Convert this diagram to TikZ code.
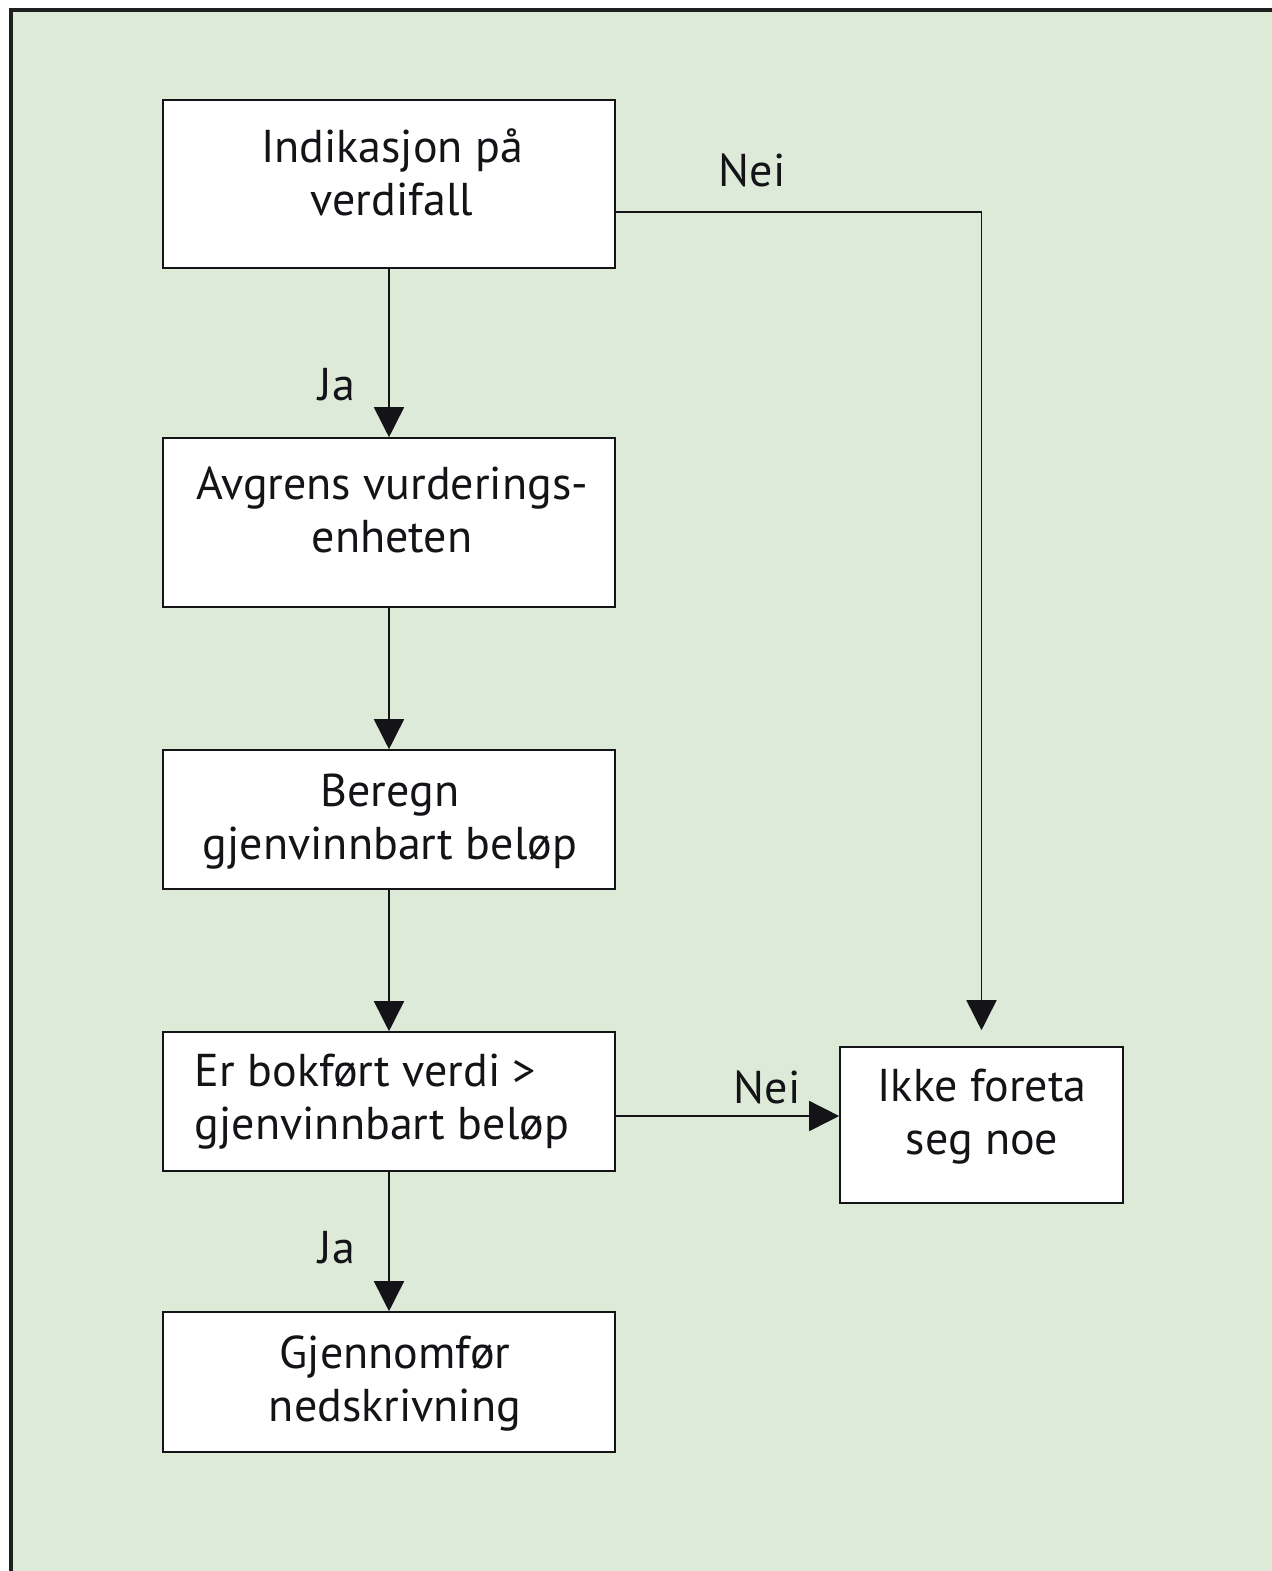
\documentclass[tikz,border=0pt]{standalone}
\usepackage{fontspec}
\setmainfont{PT Sans}
\usetikzlibrary{arrows.meta}
\definecolor{bggreen}{RGB}{221,234,216}
\definecolor{frame}{RGB}{30,32,30}
\definecolor{ink}{RGB}{20,20,24}
\begin{document}
\begin{tikzpicture}[x=0.5pt,y=-0.5pt,
  box/.style={draw=ink,line width=0.8pt,fill=white,inner sep=0pt,minimum width=226pt},
  txt/.style={font=\fontsize{23}{26.5}\selectfont,text=ink,align=center,inner sep=0pt},
  lbl/.style={font=\fontsize{23}{26.5}\selectfont,text=ink,inner sep=0pt},
  arr/.style={draw=ink,line width=0.8pt,-{Triangle[length=15pt,width=15pt]}}]
\useasboundingbox (0,0) rectangle (1272,1571);
\fill[white] (0,0) rectangle (1272,1571);
\fill[bggreen] (11,10) rectangle (1272,1571);
\draw[frame,line width=2pt] (1272,10) -- (11,10) -- (11,1571);
% boxes
\node[box,minimum height=84pt] (b1) at (389,184) {};
\node[box,minimum height=84.5pt] (b2) at (389,522.5) {};
\node[box,minimum height=69.5pt] (b3) at (389,819.5) {};
\node[box,minimum height=69.5pt] (b4) at (389,1101.5) {};
\node[box,minimum height=70pt] (b5) at (389,1382) {};
\node[box,minimum width=141.5pt,minimum height=78pt] (b6) at (981.5,1125) {};
% texts
\node[txt] (t1) at (392,172) {Indikasjon på\\verdifall};
\node[txt] (t2) at (392,510) {Avgrens vurderings-\\enheten};
\node[txt] (t3) at (390,821.5) {Beregn\\gjenvinnbart beløp};
\node[txt,align=left] (t4) at (382,1102) {Er bokført verdi >\\gjenvinnbart beløp};
\node[txt] (t5) at (395,1383) {Gjennomfør\\nedskrivning};
\node[txt] (t6) at (982,1117) {Ikke foreta\\seg noe};
% connectors
\draw[arr] (b1.south) -- (b2.north);
\draw[arr] (b2.south) -- (b3.north);
\draw[arr] (b3.south) -- (b4.north);
\draw[arr] (b4.south) -- (b5.north);
\coordinate (n1s) at ([yshift=-14pt]b1.east);
\coordinate (n1e) at ([yshift=8pt]b6.north);
\draw[arr] (n1s) -| (n1e);
\coordinate (n2s) at ([yshift=-7.25pt]b4.east);
\draw[arr] (n2s) -- (n2s -| b6.west);
% labels
\node[lbl] (l1) at (752,170) {Nei};
\node[lbl] (l2) at (337,385) {Ja};
\node[lbl] (l3) at (767,1087) {Nei};
\node[lbl] (l4) at (337,1248) {Ja};
\end{tikzpicture}
\end{document}
